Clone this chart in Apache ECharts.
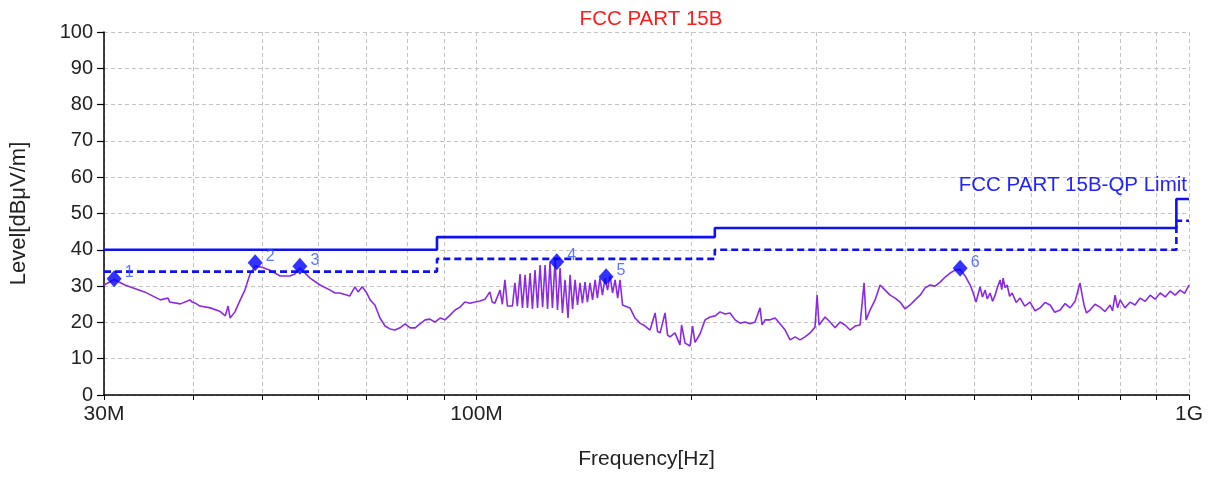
<!DOCTYPE html>
<html>
<head>
<meta charset="utf-8">
<script src="https://cdn.jsdelivr.net/npm/echarts@6/dist/echarts.min.js"></script>
<style>
html,body{margin:0;padding:0;background:#fff;}
#chart{width:1211px;height:477px;}
</style>
</head>
<body>
<div id="chart"></div>
<script>
// ---- data (frequency in MHz, level in dBµV/m) ----
const traceFreqMHz = [
30.0,31.0,32.1,32.6,34.2,36.0,36.9,37.1,38.4,39.6,39.9,40.3,40.9,42.3,43.6,44.4,44.8,45.1,45.8,46.6,47.3,48.1,48.9,50.0,51.3,53.0,54.7,55.6,56.5,58.4,60.3,
62.3,63.3,64.3,66.4,67.5,68.2,69.1,70.0,70.9,72.0,73.2,74.4,75.6,76.8,78.1,79.4,80.7,82.0,83.3,84.7,86.0,87.4,88.9,90.3,91.8,93.3,94.8,96.3,97.9,99.5,101.1,102.8,
104.4,105.2,106.1,107.9,108.7,109.6,110.5,112.3,113.2,114.1,115.1,116.0,
117.0,117.9,118.9,119.8,120.8,121.8,122.8,123.8,124.8,125.8,126.8,127.8,128.9,129.9,131.0,132.0,133.1,134.4,135.3,136.4,137.5,138.6,139.7,140.8,142.0,143.1,144.3,145.5,146.7,147.8,149.0,150.2,151.5,152.7,154.0,155.2,156.5,157.8,159.0,160.3,
161.6,164.2,166.9,169.6,172.4,175.2,178.1,179.5,181.0,183.9,185.4,186.9,189.9,193.0,194.0,196.2,199.4,201.0,202.6,205.9,209.3,212.7,216.2,219.7,223.3,226.9,230.6,
234.4,238.2,242.1,246.0,250.0,251.6,254.1,258.3,262.5,266.7,271.1,275.5,280.0,284.5,289.1,293.9,298.6,300.6,302.5,308.5,313.5,318.6,323.8,329.0,334.4,339.9,345.4,349.9,352.2,356.7,362.6,368.5,374.5,380.6,386.8,393.1,399.5,406.0,412.6,419.4,426.2,433.2,440.2,447.4,454.7,462.1,469.7,477.3,485.1,493.0,496.2,502.5,
509.1,513,517.4,521,525.8,530,534.4,538,543.1,546,548.4,552,555.6,560,564.7,572,579.4,588,598.3,608,618.0,628,638.3,648,659.4,670,681.0,692,703.1,708,712.3,718,726.3,738,750.2,762,774.9,781,787.5,794,800.5,813,826.8,840,853.9,868,882.1,896,911.1,926,940.9,956,971.8,986,1000
];
const traceLevel = [
30.3,31.8,30.3,29.8,28.4,26.2,26.7,25.6,25.1,26.2,25.6,25.3,24.5,24.0,23.1,21.8,24.5,21.2,22.9,26.2,28.9,33.3,35.5,35.2,34.4,32.8,32.8,33.3,35.0,32.2,30.3,
28.9,28.1,28.1,27.3,29.8,28.4,29.8,28.4,26.2,24.8,21.2,19.0,18.2,17.9,18.5,19.6,18.5,18.5,19.6,20.7,20.9,20.1,21.2,20.7,22.0,23.4,24.2,25.6,25.3,25.6,25.9,26.4,
28.4,25.6,25.3,28.9,25.0,31.7,24.5,24.5,30.9,24.5,33.3,24.0,
33.1,24.0,33.6,23.7,34.4,24.0,35.8,24.2,35.8,23.7,36.6,24.0,37.2,23.4,35.0,22.6,31.7,21.2,33.1,23.7,31.7,24.8,30.9,25.3,31.1,25.6,30.9,26.2,31.7,26.7,32.2,27.5,32.2,28.9,32.8,28.1,31.7,26.7,31.7,24.8,
24.5,24.0,21.2,19.8,19.0,17.9,22.6,17.5,17.1,22.6,16.5,16.0,17.1,13.8,19.3,14.3,13.5,19.0,14.5,16.8,20.7,21.5,21.8,22.9,22.3,22.6,20.7,
19.8,20.1,19.6,20.1,24.0,19.3,20.7,20.7,21.2,19.6,17.9,15.2,16.0,15.2,16.0,17.1,18.7,27.5,19.3,21.5,20.1,18.5,20.1,19.3,17.9,19.0,19.3,30.9,20.7,23.4,26.2,30.3,28.9,27.5,26.7,25.6,23.7,24.8,26.2,27.5,29.5,30.3,30.0,31.1,32.5,33.6,34.4,34.6,32.8,30.3,28.9,25.6,
29.8,27.0,28.9,26.5,28.1,25.8,27.5,29.5,31.7,29.0,32.2,29.5,30.3,27.2,28.1,25.5,26.7,24.5,25.6,23.2,24.0,25.5,24.8,22.8,23.4,25.2,24.0,25.8,30.9,27.5,24.8,22.6,23.4,25.0,24.2,23.0,24.8,23.2,27.5,24.0,26.2,24.0,25.6,24.8,26.7,25.8,27.5,26.4,28.1,27.0,28.6,27.5,28.9,28.0,30.3
];

const limitFreqMHz = [30, 88, 88, 216, 216, 960, 960, 1000];
const qpLimit      = [40, 40, 43.5, 43.5, 46, 46, 54, 54];
const qpMargin     = [34, 34, 37.5, 37.5, 40, 40, 48, 48];

const markerFreqMHz = [31.0, 48.9, 56.5, 129.6, 152.0, 477.3];
const markerLevel   = [32.0, 36.4, 35.5, 36.7, 32.6, 34.9];
const markerNames   = ['1', '2', '3', '4', '5', '6'];

const xTickValues  = [30,40,50,60,70,80,90,100,200,300,400,500,600,700,800,900,1000];
const xLabelValues = [30, 100, 1000];
const xLabelText   = {30: '30M', 100: '100M', 1000: '1G'};

// ---- chart ----
const FONT = '"Liberation Sans", Arial, sans-serif';
const zip = (a, b) => a.map((v, i) => [v, b[i]]);

const chart = echarts.init(document.getElementById('chart'), null, {renderer: 'canvas'});
chart.setOption({
  animation: false,
  backgroundColor: '#ffffff',
  title: {
    text: 'FCC PART 15B',
    left: 646, top: 4, textAlign: 'center',
    textStyle: {color: '#ff1a1a', fontSize: 20.5, fontWeight: 'normal', fontFamily: FONT}
  },
  grid: {left: 104, right: 22, top: 32, bottom: 82, containLabel: false},
  xAxis: {
    type: 'log', logBase: 10, min: 30, max: 1000,
    name: 'Frequency[Hz]', nameLocation: 'middle', nameGap: 54,
    nameTextStyle: {color: '#222', fontSize: 21, fontFamily: FONT},
    axisLine: {show: true, lineStyle: {color: '#000', width: 1.5}},
    axisTick: {show: true, length: 5, customValues: xTickValues, lineStyle: {color: '#000', width: 1}},
    axisLabel: {
      customValues: xLabelValues, color: '#222', fontSize: 21, fontFamily: FONT, margin: 9,
      formatter: v => xLabelText[Math.round(v)] || ''
    },
    splitLine: {show: true, lineStyle: {color: '#c4c4c4', type: [4, 3], width: 1}},
    minorTick: {show: false}
  },
  yAxis: {
    type: 'value', min: 0, max: 100, interval: 10,
    name: 'Level[dBμV/m]', nameLocation: 'middle', nameGap: 74, nameRotate: 90,
    nameTextStyle: {color: '#222', fontSize: 22, fontFamily: FONT},
    axisLine: {show: true, lineStyle: {color: '#000', width: 1.5}},
    axisTick: {show: true, length: 7, lineStyle: {color: '#000', width: 1.2}},
    axisLabel: {color: '#222', fontSize: 20, fontFamily: FONT, margin: 11},
    splitLine: {show: true, lineStyle: {color: '#c4c4c4', type: [4, 3], width: 1}}
  },
  graphic: [{
    type: 'text', right: 24, top: 175, z: 10,
    style: {text: 'FCC PART 15B-QP Limit', fill: '#2323ff', font: '20.5px ' + FONT}
  }],
  series: [
    {
      name: 'Trace', type: 'line', data: zip(traceFreqMHz, traceLevel),
      showSymbol: false, symbol: 'none', z: 2,
      lineStyle: {color: '#8a2be2', width: 1.6}
    },
    {
      name: 'FCC PART 15B-QP Limit', type: 'line', data: zip(limitFreqMHz, qpLimit),
      showSymbol: false, symbol: 'none', z: 3,
      lineStyle: {color: '#1010f0', width: 2.6}
    },
    {
      name: 'QP Limit -6dB', type: 'line', data: zip(limitFreqMHz, qpMargin),
      showSymbol: false, symbol: 'none', z: 3,
      lineStyle: {color: '#1010f0', width: 2.6, type: [7, 4]}
    },
    {
      name: 'Markers', type: 'scatter', z: 5,
      data: markerFreqMHz.map((f, i) => ({value: [f, markerLevel[i]], name: markerNames[i]})),
      symbol: 'diamond', symbolSize: [15, 17],
      itemStyle: {color: '#0000ff'},
      label: {show: true, formatter: p => p.name, position: 'right', offset: [-2, -6],
              color: '#3355ff', fontSize: 16, fontFamily: FONT}
    }
  ]
});
</script>
</body>
</html>
